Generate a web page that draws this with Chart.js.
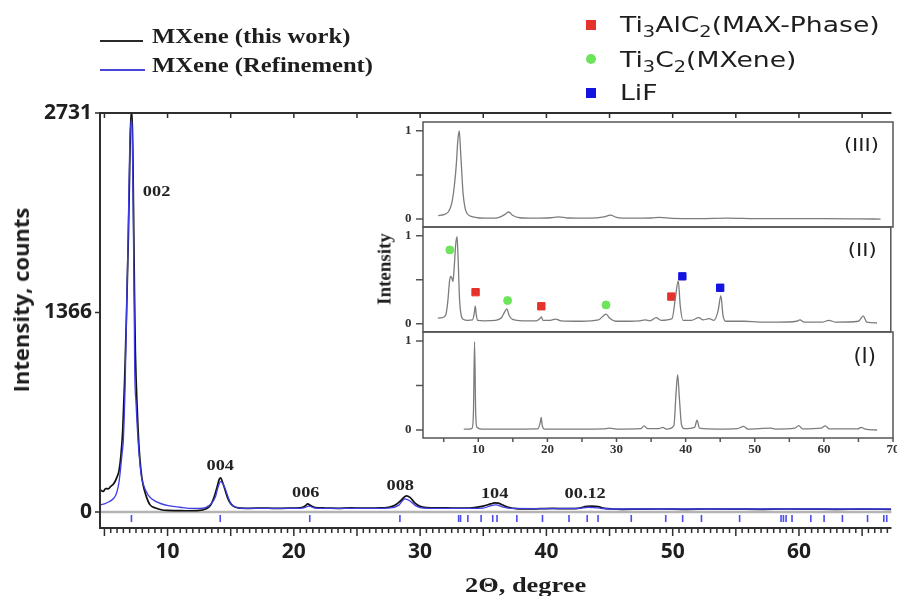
<!DOCTYPE html>
<html>
<head>
<meta charset="utf-8">
<script src="https://cdn.jsdelivr.net/npm/chart.js@4/dist/chart.umd.min.js"></script>
<style>
  body { margin: 0; background: #fff; }
  #quadro { position: relative; width: 897px; height: 596px; overflow: hidden; background: #fff; }
  canvas { position: absolute; }
  .txt { position: absolute; white-space: nowrap; color: #1e1e1e; }
  .serif { font-family: "Liberation Serif", "DejaVu Serif", serif; font-weight: bold; }
  .sans { font-family: "DejaVu Sans", sans-serif; }
  .ind { font-size: 16px; vertical-align: -5px; line-height: 0; }
  .linha { position: absolute; height: 2px; }
  .marca { position: absolute; width: 10px; height: 10px; }
</style>
</head>
<body>
<div id="quadro">
  <canvas id="grafico" width="897" height="596" style="left:0;top:0"></canvas>
  <canvas id="painel3" width="527" height="118" style="left:370px;top:115px"></canvas>
  <canvas id="painel2" width="527" height="118" style="left:370px;top:220px"></canvas>
  <canvas id="painel1" width="527" height="140" style="left:370px;top:325px"></canvas>

  <!-- legenda das curvas -->
  <div class="linha" style="left:100px;top:40px;width:43px;background:#2a2a2a"></div>
  <div class="txt serif" style="left:152px;top:25px;font-size:22px;line-height:22px;transform:scaleX(1.12);transform-origin:0 50%">MXene (this work)</div>
  <div class="linha" style="left:100px;top:69px;width:45px;background:#4646dc"></div>
  <div class="txt serif" style="left:152px;top:54px;font-size:22px;line-height:22px;transform:scaleX(1.12);transform-origin:0 50%">MXene (Refinement)</div>

  <!-- legenda das fases -->
  <div class="marca" style="left:586px;top:20px;background:#e5322b"></div>
  <div class="txt sans" style="left:620px;top:14px;font-size:22px;line-height:22px;transform:scaleX(1.21);transform-origin:0 50%">Ti<span class="ind">3</span>AlC<span class="ind">2</span>(MAX-Phase)</div>
  <div class="marca" style="left:586px;top:54px;background:#6ee35c;border-radius:50%"></div>
  <div class="txt sans" style="left:620px;top:49px;font-size:22px;line-height:22px;transform:scaleX(1.21);transform-origin:0 50%">Ti<span class="ind">3</span>C<span class="ind">2</span>(MXene)</div>
  <div class="marca" style="left:586px;top:88px;background:#1414e0"></div>
  <div class="txt sans" style="left:620px;top:82px;font-size:22px;line-height:22px;transform:scaleX(1.21);transform-origin:0 50%">LiF</div>

  <!-- titulos dos eixos -->
  <div class="txt" style="left:20px;top:300px;font-family:'Open Sans',sans-serif;font-weight:bold;font-size:22px;line-height:22px;transform:translate(-50%,-50%) rotate(-90deg)">Intensity, counts</div>
  <div class="txt serif" style="left:465px;top:574px;font-size:22px;line-height:22px;transform:scaleX(1.2);transform-origin:0 50%">2Θ, degree</div>
  <div class="txt serif" style="left:384px;top:269px;font-size:19px;line-height:19px;transform:translate(-50%,-50%) rotate(-90deg)">Intensity</div>

  <!-- rotulos dos paineis -->
  <div class="txt sans" style="right:18px;top:136px;font-size:18px;line-height:18px;transform:scaleX(1.17);transform-origin:100% 50%">(III)</div>
  <div class="txt sans" style="right:20px;top:241px;font-size:18px;line-height:18px;transform:scaleX(1.17);transform-origin:100% 50%">(II)</div>
  <div class="txt sans" style="right:21px;top:346px;font-size:21px;line-height:21px">(I)</div>
</div>

<script>
// difratograma medido (2θ em graus, contagens)
const grauExp = [4.65, 4.9, 5.1, 5.3, 5.5, 5.7, 5.85, 6.0, 6.15, 6.3, 6.45, 6.6, 6.75, 6.9, 7.0, 7.1, 7.2, 7.3, 7.38, 7.45, 7.6, 7.75, 7.9, 8.05, 8.3, 8.6, 9.0, 9.5, 10.0, 10.7, 11.5, 12.5, 13.0, 13.4, 13.7, 13.95, 14.1, 14.2, 14.35, 14.5, 14.7, 14.9, 15.2, 15.6, 16.5, 17.5, 18.5, 19.5, 20.5, 20.9, 21.1, 21.3, 21.7, 22.5, 23.5, 24.5, 25.5, 26.5, 27.5, 28.0, 28.5, 28.9, 29.2, 29.6, 30.0, 30.5, 31.5, 32.5, 33.5, 34.3, 35.0, 35.6, 35.9, 36.2, 36.6, 37.0, 37.6, 38.5, 39.5, 40.5, 41.5, 42.5, 43.2, 43.6, 44.1, 44.6, 45.2, 46.0, 47.5, 49.0, 51.0, 53.0, 55.0, 57.0, 59.0, 61.0, 63.0, 65.0, 67.3];
const contagemExp = [151, 140, 160, 158, 175, 190, 210, 240, 280, 380, 560, 900, 1350, 1900, 2350, 2731, 2731, 2100, 1500, 1100, 700, 430, 280, 190, 110, 50, 28, 15, 10, 9, 8, 10, 20, 45, 105, 180, 224, 233, 205, 165, 110, 70, 40, 28, 25, 27, 24, 26, 28, 40, 55, 45, 30, 27, 25, 28, 26, 27, 32, 45, 80, 110, 100, 60, 38, 30, 28, 27, 26, 30, 40, 55, 62, 60, 45, 32, 22, 20, 22, 24, 22, 25, 38, 40, 36, 25, 20, 18, 19, 20, 18, 20, 19, 18, 20, 19, 18, 19, 18];

// perfil calculado no refinamento
const grauRef = [4.65, 5.0, 5.4, 5.7, 5.96, 6.15, 6.27, 6.4, 6.5, 6.65, 6.75, 6.87, 7.0, 7.12, 7.2, 7.27, 7.35, 7.4, 7.5, 7.66, 7.8, 7.93, 8.05, 8.45, 9.1, 10.2, 11.0, 11.7, 12.5, 13.0, 13.5, 13.8, 14.0, 14.2, 14.4, 14.6, 14.8, 15.0, 15.4, 16.0, 18.0, 20.0, 20.8, 21.2, 21.6, 22.5, 25.0, 27.5, 28.3, 28.8, 29.2, 29.7, 30.3, 33.0, 35.0, 35.5, 36.0, 36.5, 37.2, 40.0, 42.5, 43.3, 43.8, 44.3, 45.0, 50.0, 55.0, 60.0, 67.3];
const contagemRef = [48, 55, 71, 90, 128, 200, 288, 400, 494, 900, 1366, 1846, 2484, 2680, 2600, 2141, 1477, 974, 750, 494, 340, 242, 197, 117, 71, 41, 32, 25, 24, 30, 60, 105, 170, 208, 190, 151, 100, 60, 32, 25, 24, 24, 28, 40, 28, 24, 24, 26, 45, 90, 75, 40, 26, 24, 26, 40, 48, 35, 24, 23, 24, 32, 30, 25, 20, 20, 20, 20, 20];

// posicoes das reflexoes (marcas azuis abaixo do zero)
const posicoesBragg = [7.14, 14.17, 21.26, 28.4, 33.05, 33.2, 33.78, 34.83, 35.75, 36.09, 37.66, 39.69, 41.79, 43.23, 44.09, 46.72, 49.45, 50.79, 52.28, 55.3, 58.58, 58.77, 58.98, 59.45, 60.94, 61.99, 63.44, 65.43, 66.72, 66.95];
const nivelBragg = -45;

// indices (hkl) e onde ficam escritos
const rotulosPicos = [
  { texto: '002', x: 9.13, y: 2189 },
  { texto: '004', x: 14.17, y: 316 },
  { texto: '006', x: 20.94, y: 130 },
  { texto: '008', x: 28.43, y: 178 },
  { texto: '104', x: 35.9, y: 124 },
  { texto: '00.12', x: 43.07, y: 124 },
];

const rotulosX = [10, 20, 30, 40, 50, 60];
const rotulosY = [0, 1366, 2731];

// inserto: padroes normalizados
const grauIII = [4.2, 5.0, 5.65, 6.1, 6.4, 6.8, 7.05, 7.25, 7.45, 7.8, 8.1, 8.4, 9.0, 9.9, 11.5, 13.0, 13.8, 14.4, 15.0, 16.0, 18.0, 20.5, 21.6, 23.0, 26.0, 28.2, 29.1, 30.0, 32.0, 35.0, 36.3, 38.0, 42.0, 46.0, 50.0, 55.0, 60.0, 65.0, 68.2];
const intensIII = [0.04, 0.05, 0.08, 0.16, 0.29, 0.6, 0.9, 1.0, 0.75, 0.29, 0.12, 0.06, 0.03, 0.015, 0.01, 0.02, 0.05, 0.08, 0.04, 0.015, 0.01, 0.015, 0.025, 0.012, 0.01, 0.025, 0.045, 0.02, 0.01, 0.012, 0.02, 0.008, 0.005, 0.01, 0.005, 0.004, 0.004, 0.002, 0.0];

const grauII = [4.15, 4.8, 5.3, 5.6, 5.85, 6.0, 6.2, 6.35, 6.5, 6.75, 6.95, 7.1, 7.3, 7.5, 7.9, 8.5, 9.2, 9.45, 9.6, 9.75, 9.95, 11.0, 12.5, 13.4, 13.9, 14.2, 14.5, 15.0, 16.5, 18.5, 19.0, 19.2, 19.45, 20.5, 21.3, 22.0, 25.0, 27.5, 28.2, 28.6, 29.2, 30.0, 32.0, 33.5, 34.3, 35.0, 35.9, 36.6, 38.2, 38.7, 39.1, 39.4, 39.8, 41.0, 42.1, 42.7, 43.6, 44.3, 44.9, 45.3, 45.6, 46.0, 48.7, 51.0, 53.5, 56.3, 56.8, 57.4, 60.0, 61.0, 62.0, 65.3, 66.0, 66.5, 68.0];
const intensII = [0.065, 0.07, 0.1, 0.25, 0.48, 0.54, 0.52, 0.48, 0.6, 0.9, 0.99, 0.75, 0.3, 0.12, 0.05, 0.04, 0.045, 0.12, 0.2, 0.1, 0.04, 0.035, 0.04, 0.07, 0.14, 0.17, 0.1, 0.05, 0.035, 0.035, 0.06, 0.08, 0.04, 0.04, 0.055, 0.035, 0.03, 0.045, 0.09, 0.11, 0.06, 0.03, 0.03, 0.035, 0.045, 0.035, 0.07, 0.04, 0.06, 0.3, 0.49, 0.2, 0.04, 0.04, 0.07, 0.045, 0.06, 0.04, 0.15, 0.32, 0.1, 0.03, 0.03, 0.02, 0.02, 0.03, 0.045, 0.02, 0.02, 0.04, 0.02, 0.03, 0.09, 0.02, 0.01];

const grauI = [7.9, 8.7, 9.1, 9.3, 9.46, 9.62, 9.8, 10.5, 14.0, 18.6, 18.95, 19.1, 19.25, 19.6, 25.0, 28.0, 29.0, 30.0, 33.5, 34.0, 34.5, 36.1, 36.7, 37.2, 38.3, 38.6, 38.84, 39.1, 39.4, 39.8, 41.3, 41.65, 42.0, 44.6, 47.5, 48.4, 49.0, 52.3, 53.0, 55.8, 56.35, 56.9, 59.6, 60.2, 60.8, 64.9, 65.4, 66.0, 67.7];
const intensI = [0.01, 0.01, 0.02, 0.2, 0.99, 0.2, 0.03, 0.01, 0.01, 0.012, 0.08, 0.14, 0.05, 0.01, 0.01, 0.012, 0.02, 0.01, 0.015, 0.045, 0.015, 0.015, 0.03, 0.01, 0.05, 0.4, 0.62, 0.35, 0.06, 0.015, 0.03, 0.11, 0.02, 0.01, 0.015, 0.04, 0.01, 0.02, 0.01, 0.02, 0.05, 0.012, 0.02, 0.045, 0.012, 0.012, 0.03, 0.01, 0.0];

// fases identificadas no painel (II)
const picosMax = [[9.64, 0.36], [19.2, 0.2], [38.1, 0.31]];
const picosMxene = [[5.9, 0.84], [14.3, 0.265], [28.6, 0.215]];
const picosLiF = [[39.7, 0.54], [45.2, 0.41]];

const rotulosInsertoX = [5, 10, 15, 20, 25, 30, 35, 40, 45, 50, 55, 60, 65, 70];
const rotulosInsertoY = [0, 0.5, 1];

// junta x e y no formato do chart.js
function pares(xs, ys) {
  return xs.map((x, i) => ({ x: x, y: ys[i] }));
}

const fonteEixo = { family: 'Open Sans', weight: 'bold', size: 21 };

// moldura, tracos dos eixos, linha do zero e indices dos picos
const molduraPlugin = {
  id: 'moldura',
  beforeDatasetsDraw(chart) {
    const { ctx, chartArea: a, scales: { y } } = chart;
    const y0 = y.getPixelForValue(0);
    ctx.save();
    ctx.strokeStyle = '#b4b4b4';
    ctx.lineWidth = 2.5;
    ctx.beginPath();
    ctx.moveTo(a.left, y0);
    ctx.lineTo(a.right, y0);
    ctx.stroke();
    ctx.restore();
  },
  afterDatasetsDraw(chart) {
    const { ctx, chartArea: a, scales: { x, y } } = chart;
    ctx.save();
    ctx.strokeStyle = '#2e2e2e';
    ctx.lineWidth = 2;
    ctx.beginPath();
    ctx.moveTo(a.right, a.top);
    ctx.lineTo(a.left, a.top);
    ctx.lineTo(a.left, a.bottom);
    ctx.lineTo(a.right, a.bottom);
    ctx.stroke();

    ctx.lineWidth = 1.5;
    ctx.beginPath();
    for (let g = 5; g <= 67; g += 0.5) {
      const px = x.getPixelForValue(g);
      const comp = g % 5 === 0 ? 8 : 5;
      ctx.moveTo(px, a.bottom);
      ctx.lineTo(px, a.bottom + comp);
    }
    for (let g = 5; g <= 65; g += 5) {
      const px = x.getPixelForValue(g);
      ctx.moveTo(px, a.top);
      ctx.lineTo(px, a.top + 5);
    }
    rotulosY.forEach(v => {
      const py = y.getPixelForValue(v);
      ctx.moveTo(a.left, py);
      ctx.lineTo(a.left - 5, py);
    });
    ctx.stroke();

    ctx.fillStyle = '#222';
    ctx.font = 'bold 15px "Liberation Serif"';
    ctx.textAlign = 'center';
    ctx.textBaseline = 'middle';
    rotulosPicos.forEach(r => {
      ctx.save();
      ctx.translate(x.getPixelForValue(r.x), y.getPixelForValue(r.y));
      ctx.scale(1.22, 1);
      ctx.fillText(r.texto, 0, 0);
      ctx.restore();
    });
    ctx.restore();
  }
};

const graficoPrincipal = new Chart(document.getElementById('grafico'), {
  type: 'line',
  data: {
    datasets: [
      {
        label: 'MXene (Refinement)',
        data: pares(grauRef, contagemRef),
        borderColor: '#3d3de6',
        borderWidth: 1.3,
        pointRadius: 0,
        cubicInterpolationMode: 'monotone',
      },
      {
        label: 'MXene (this work)',
        data: pares(grauExp, contagemExp),
        borderColor: '#111',
        borderWidth: 1.7,
        pointRadius: 0,
        cubicInterpolationMode: 'monotone',
      },
      {
        type: 'scatter',
        label: 'Bragg',
        data: posicoesBragg.map(g => ({ x: g, y: nivelBragg })),
        pointStyle: 'line',
        rotation: 90,
        pointRadius: 3.5,
        borderColor: '#4b4bf0',
        borderWidth: 1.6,
      },
    ],
  },
  options: {
    responsive: false,
    animation: false,
    layout: { padding: { top: 113, right: 1, left: 0, bottom: 0 } },
    plugins: { legend: { display: false }, tooltip: { enabled: false } },
    scales: {
      x: {
        type: 'linear',
        min: 4.65,
        max: 67.32,
        grid: { display: false, drawTicks: false },
        border: { display: false },
        afterFit: s => { s.height = 68; },
        afterBuildTicks: s => { s.ticks = rotulosX.map(v => ({ value: v })); },
        ticks: { font: fonteEixo, color: '#1e1e1e', padding: 11, maxRotation: 0, autoSkip: false, callback: v => String(v) },
      },
      y: {
        type: 'linear',
        min: -110,
        max: 2731,
        grid: { display: false, drawTicks: false },
        border: { display: false },
        afterFit: s => { s.width = 100; },
        afterBuildTicks: s => { s.ticks = rotulosY.map(v => ({ value: v })); },
        ticks: { font: fonteEixo, color: '#1e1e1e', padding: 8, autoSkip: false, callback: v => String(v) },
      },
    },
  },
  plugins: [molduraPlugin],
});

// caixa, tracos e numeros de cada painel do inserto
const caixaPainel = {
  id: 'caixaPainel',
  afterDatasetsDraw(chart, args, opts) {
    const { ctx, chartArea: a, scales: { x, y } } = chart;
    ctx.save();
    ctx.strokeStyle = '#555';
    ctx.lineWidth = 1.5;
    ctx.strokeRect(a.left, a.top, a.right - a.left, a.bottom - a.top);
    ctx.beginPath();
    rotulosInsertoY.forEach(v => {
      const py = y.getPixelForValue(v);
      ctx.moveTo(a.left, py);
      ctx.lineTo(a.left - 7, py);
    });
    if (opts.eixoX) {
      rotulosInsertoX.forEach(g => {
        const px = x.getPixelForValue(g);
        ctx.moveTo(px, a.bottom);
        ctx.lineTo(px, a.bottom + 4);
      });
    }
    ctx.stroke();

    ctx.fillStyle = '#333';
    ctx.font = 'bold 13px "Liberation Serif"';
    ctx.textBaseline = 'middle';
    ctx.textAlign = 'right';
    rotulosInsertoY.filter(v => v !== 0.5).forEach(v => {
      ctx.fillText(String(v), a.left - 11.5, y.getPixelForValue(v));
    });
    if (opts.eixoX) {
      ctx.textAlign = 'center';
      rotulosInsertoX.filter(g => g % 10 === 0).forEach(g => {
        ctx.fillText(String(g), x.getPixelForValue(g), a.bottom + 12);
      });
    }
    ctx.restore();
  }
};

function criaPainel(id, xs, ys, extras, comEixoX) {
  const series = [
    {
      data: pares(xs, ys),
      borderColor: '#7c7c7c',
      borderWidth: 1.3,
      pointRadius: 0,
      cubicInterpolationMode: 'monotone',
    },
  ].concat(extras);

  return new Chart(document.getElementById(id), {
    type: 'line',
    data: { datasets: series },
    options: {
      responsive: false,
      animation: false,
      layout: { padding: { top: 7, right: 4, left: 0, bottom: comEixoX ? 27 : 6 } },
      plugins: { legend: { display: false }, tooltip: { enabled: false }, caixaPainel: { eixoX: comEixoX } },
      scales: {
        x: { type: 'linear', display: false, min: 2, max: 70 },
        y: {
          type: 'linear',
          min: -0.09,
          max: 1.1,
          grid: { display: false, drawTicks: false },
          border: { display: false },
          ticks: { display: false },
          afterFit: s => { s.width = 53; },
        },
      },
    },
    plugins: [caixaPainel],
  });
}

// marcadores das fases no painel (II)
function marcadores(lista, estilo, cor, raio) {
  return {
    type: 'scatter',
    data: lista.map(p => ({ x: p[0], y: p[1] })),
    pointStyle: estilo,
    pointRadius: raio,
    backgroundColor: cor,
    borderColor: cor,
    borderWidth: 1,
  };
}

const painelIII = criaPainel('painel3', grauIII, intensIII, [], false);
const painelII = criaPainel('painel2', grauII, intensII, [
  marcadores(picosMax, 'rect', '#e5322b', 5.2),
  marcadores(picosMxene, 'circle', '#6ee35c', 4),
  marcadores(picosLiF, 'rect', '#1414e0', 5.2),
], false);
const painelI = criaPainel('painel1', grauI, intensI, [], true);
</script>
</body>
</html>
